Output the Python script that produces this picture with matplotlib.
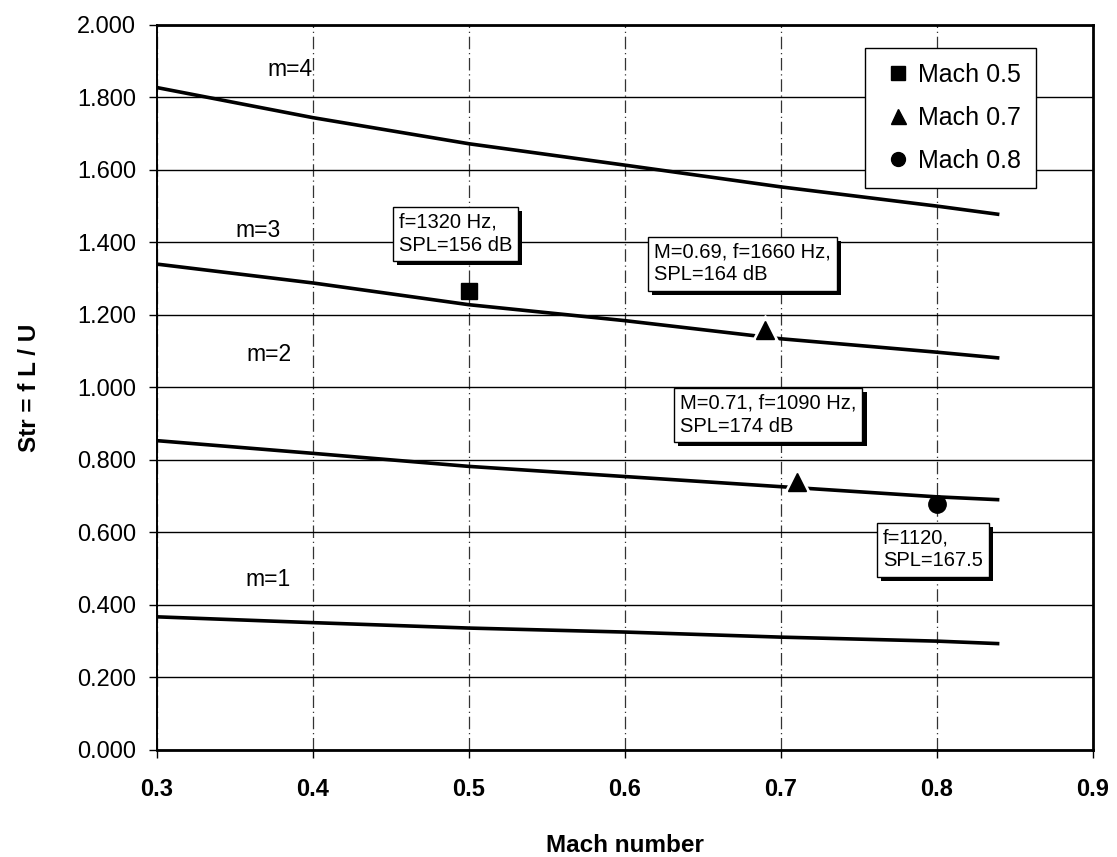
import matplotlib
matplotlib.use("Agg")
import matplotlib.pyplot as plt
import matplotlib.patheffects as pe
from matplotlib.ticker import FormatStrFormatter, MultipleLocator

plt.rcParams['font.family'] = ['Liberation Sans', 'DejaVu Sans']

# Rossiter mode curves
mach = [0.3, 0.4, 0.5, 0.6, 0.7, 0.8, 0.84]
str_m1 = [0.367, 0.351, 0.336, 0.325, 0.311, 0.300, 0.293]
str_m2 = [0.853, 0.818, 0.782, 0.754, 0.726, 0.698, 0.690]
str_m3 = [1.340, 1.288, 1.228, 1.184, 1.134, 1.097, 1.081]
str_m4 = [1.827, 1.744, 1.672, 1.613, 1.553, 1.500, 1.477]
mode_labels = ["m=1", "m=2", "m=3", "m=4"]
mode_label_pos = [(0.371, 0.47), (0.372, 1.09), (0.365, 1.433), (0.385, 1.876)]

# measured peaks
m05_x, m05_y = [0.5], [1.265]
m07_x, m07_y = [0.69, 0.71], [1.157, 0.738]
m08_x, m08_y = [0.8], [0.679]

notes = ["f=1320 Hz,\nSPL=156 dB",
         "M=0.69, f=1660 Hz,\nSPL=164 dB",
         "M=0.71, f=1090 Hz,\nSPL=174 dB",
         "f=1120,\nSPL=167.5"]
note_pos = [(0.4551, 1.481), (0.6186, 1.399), (0.6353, 0.982), (0.7654, 0.610)]

fig = plt.figure(figsize=(11.17, 8.57), dpi=100)
ax = fig.add_axes([0.1405, 0.125, 0.838, 0.846])

for s in [str_m1, str_m2, str_m3, str_m4]:
    ax.plot(mach, s, color="black", linewidth=2.6, zorder=3, solid_capstyle="butt")

for txt, (x, y) in zip(mode_labels, mode_label_pos):
    ax.text(x, y, txt, fontsize=16.5, ha="center", va="center", zorder=4)

# white halo behind the triangles breaks the curves like in the original
ax.plot(m07_x, m07_y, marker="^", markersize=22, color="white", linestyle="none", zorder=4)
ax.plot(m05_x, m05_y, marker="s", markersize=12, color="black", linestyle="none",
        zorder=5, label="Mach 0.5")
ax.plot(m07_x, m07_y, marker="^", markersize=13.5, color="black", linestyle="none",
        zorder=5, label="Mach 0.7")
ax.plot(m08_x, m08_y, marker="o", markersize=12.5, color="black", linestyle="none",
        zorder=5, label="Mach 0.8")

for txt, (x, y) in zip(notes, note_pos):
    t = ax.text(x, y, txt, fontsize=14.5, ha="left", va="top", linespacing=1.25, zorder=6,
                bbox=dict(boxstyle="square,pad=0.3", facecolor="white", edgecolor="black",
                          linewidth=1.0))
    t.get_bbox_patch().set_path_effects([pe.SimplePatchShadow(offset=(3, -3), shadow_rgbFace="black",
                                                               alpha=1.0), pe.Normal()])

ax.set_xlim(0.3, 0.9)
ax.set_ylim(0.0, 2.0)
ax.xaxis.set_major_locator(MultipleLocator(0.1))
ax.yaxis.set_major_locator(MultipleLocator(0.2))
ax.xaxis.set_major_formatter(FormatStrFormatter("%.1f"))
ax.yaxis.set_major_formatter(FormatStrFormatter("%.3f"))

ax.grid(axis="y", color="black", linewidth=1.0, linestyle="-", zorder=1)
ax.grid(axis="x", color="#333333", linewidth=0.9, linestyle=(0, (10, 3, 1, 3)), zorder=1)
ax.set_axisbelow(True)

for side in ["top", "bottom", "right"]:
    ax.spines[side].set_linewidth(2.0)
ax.spines["left"].set_linewidth(1.4)

ax.tick_params(axis="both", direction="out", length=6, width=1, labelsize=17)
ax.tick_params(axis="y", pad=9)
ax.tick_params(axis="x", pad=14)
for lbl in ax.get_xticklabels():
    lbl.set_fontweight("bold")

ax.set_xlabel("Mach number", fontsize=17.5, fontweight="bold", labelpad=24)
ax.set_ylabel("Str = f L / U", fontsize=17.5, fontweight="bold", labelpad=26)

leg = ax.legend(loc="upper right", bbox_to_anchor=(0.939, 0.968), borderaxespad=0, fontsize=18,
                frameon=True, fancybox=False, framealpha=1, edgecolor="black", handletextpad=0.1,
                handlelength=1.4, labelspacing=0.75, borderpad=0.6, markerscale=0.8)
leg.get_frame().set_linewidth(1.0)
leg.set_zorder(7)

fig.savefig("out.png", dpi=100)
